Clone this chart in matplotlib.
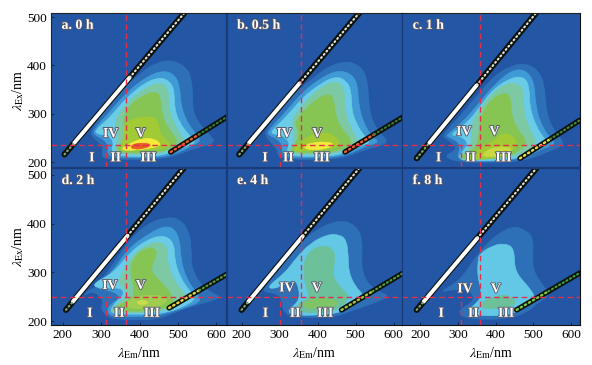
import matplotlib
matplotlib.use('Agg')
import numpy as np
import matplotlib.pyplot as plt
import matplotlib.patheffects as pe
from matplotlib.path import Path
from matplotlib.patches import PathPatch

plt.rcParams['font.family'] = ['Liberation Serif', 'DejaVu Serif']
plt.rcParams['mathtext.fontset'] = 'stix'

W, H = 592, 365

# contour outlines, (em, ex) in nm, outermost level first
a_levels = [
    [(282,266),(312,304),(356,346),(408,384),(442,402),(481,408),(516,394),(529,373),(533,339),(533,304),(551,277),(577,256),(590,241),(529,228),(486,214),(442,208),(338,208),(312,211),(308,221),(312,234),(295,246),(282,256)],
    [(286,266),(325,301),(369,342),(416,373),(460,387),(490,377),(501,352),(503,318),(516,287),(533,266),(555,246),(529,234),(486,218),(442,211),(343,211),(321,218),(325,235),(312,249),(291,256)],
    [(291,266),(330,294),(369,332),(416,363),(455,373),(477,363),(487,346),(487,311),(499,283),(520,259),(542,243),(520,235),(477,221),(442,214),(347,214),(330,225),(338,241),(325,256),(295,259)],
    [(338,283),(369,321),(416,352),(455,363),(473,349),(473,311),(486,280),(507,252),(516,241),(477,225),(438,218),(351,218),(338,225),(347,241),(347,263)],
    [(360,290),(377,318),(416,339),(442,344),(453,332),(455,301),(468,273),(499,242),(473,228),(434,221),(360,221),(343,228),(360,242),(364,266)],
    [(364,280),(386,290),(434,294),(447,283),(451,256),(481,237),(451,227),(373,225),(347,226),(360,239),(360,263)],
    [(351,225),(377,239),(408,249),(438,248),(455,236),(434,230),(390,225)],
    [(377,232),(390,239),(421,239),(429,234),(408,228),(386,227)],
]
b_levels = [
    [(271,266),(301,301),(345,342),(398,377),(433,397),(481,406),(516,390),(527,359),(529,318),(538,283),(560,259),(582,241),(520,228),(477,214),(433,208),(328,208),(301,214),(301,228),(284,242),(271,256)],
    [(275,264),(314,297),(358,339),(406,370),(450,387),(485,380),(501,359),(503,318),(516,280),(538,252),(556,243),(520,234),(477,218),(433,211),(332,211),(310,218),(314,235),(301,249),(279,256)],
    [(284,264),(323,294),(363,332),(406,359),(446,375),(472,366),(485,346),(485,308),(499,277),(520,252),(534,243),(507,234),(468,221),(433,214),(336,214),(323,225),(332,241),(314,256),(288,259)],
    [(336,290),(367,321),(406,352),(446,366),(468,352),(468,308),(481,273),(507,241),(468,225),(428,218),(341,218),(328,225),(341,241),(341,266)],
    [(341,280),(376,315),(411,335),(431,339),(441,328),(446,290),(463,266),(490,242),(463,228),(424,221),(349,221),(332,228),(349,242),(354,266)],
    [(358,241),(384,256),(415,261),(441,256),(459,237),(433,227),(354,223),(336,225)],
    [(363,232),(385,240),(424,242),(443,237),(424,228),(380,225)],
]
c_levels = [
    [(266,256),(306,290),(350,332),(394,373),(434,394),(474,402),(509,387),(524,359),(527,318),(536,283),(558,256),(576,239),(540,225),(470,204),(381,202),(302,203),(271,214),(297,225),(302,234),(275,250)],
    [(275,256),(315,280),(359,321),(399,359),(443,388),(478,387),(498,363),(501,321),(512,283),(536,252),(554,239),(514,228),(461,206),(328,203),(303,211),(310,225),(309,242),(284,252)],
    [(284,256),(328,280),(359,311),(394,349),(443,373),(474,373),(486,352),(486,315),(501,277),(523,249),(536,239),(501,228),(452,207),(328,204),(306,211),(319,225),(333,241),(310,256)],
    [(341,283),(364,311),(394,342),(434,362),(461,359),(471,342),(471,308),(483,273),(505,243),(492,232),(447,211),(319,206),(310,214),(333,225),(341,249)],
    [(359,273),(368,304),(394,332),(425,342),(439,332),(439,297),(456,266),(483,241),(452,221),(425,211),(328,206),(310,213),(341,225),(356,239)],
    [(359,228),(390,241),(417,259),(439,256),(456,241),(443,225),(417,211),(350,207),(328,207)],
    [(368,218),(392,230),(430,232),(443,225),(421,213),(372,211)],
]
d_levels = [
    [(291,268),(330,309),(369,357),(416,395),(468,410),(503,405),(525,377),(529,340),(529,309),(551,275),(581,258),(607,249),(529,232),(477,216),(442,205),(347,205),(317,213),(304,230),(313,242),(291,261),(269,258),(261,252),(278,266)],
    [(295,268),(338,305),(373,347),(425,377),(460,391),(486,388),(501,364),(503,326),(516,288),(542,258),(555,242),(516,230),(477,220),(442,213),(351,210),(321,216),(325,234),(356,249),(338,261),(308,266)],
    [(285,277),(338,299),(377,340),(425,367),(464,373),(486,357),(487,326),(499,292),(525,261),(542,247),(507,230),(473,221),(434,216),(351,216),(325,220),(343,242),(360,251),(360,268),(325,268),(295,268)],
    [(347,281),(382,333),(425,357),(455,360),(470,347),(470,319),(481,292),(507,261),(520,249),(494,233),(460,223),(408,218),(347,220),(325,221),(351,240),(369,251),(364,268)],
    [(377,305),(390,333),(416,347),(438,348),(444,336),(429,309),(434,295),(468,268),(481,252),(486,237),(460,227),(403,221),(356,223),(338,227),(364,240),(389,251),(384,281)],
    [(369,240),(395,251),(442,254),(473,247),(460,233),(416,225),(369,227)],
]
d_spot = [(390,238),(408,244),(425,238),(408,232)]
e_levels = [
    [(262,263),(301,299),(349,350),(402,388),(463,405),(499,391),(513,367),(512,333),(512,302),(529,275),(556,261),(582,252),(538,237),(485,223),(442,210),(336,210),(314,223),(314,242),(301,257),(279,259)],
    [(270,268),(319,299),(341,323),(380,357),(424,375),(455,375),(472,364),(477,333),(477,302),(494,271),(520,251),(485,230),(442,216),(341,213),(323,223),(354,242),(354,268),(341,288),(301,268)],
    [(367,288),(367,326),(389,347),(420,353),(443,343),(443,319),(437,292),(459,268),(481,251),(463,233),(437,221),(389,218),(341,223),(358,240),(380,247),(373,268)],
    [(364,236),(380,245),(428,247),(455,238),(437,229),(393,225),(367,228)],
]
f_levels = [
    [(253,258),(310,282),(346,326),(390,367),(443,393),(483,381),(496,364),(494,333),(496,302),(518,275),(540,254),(501,236),(487,223),(434,206),(328,206),(306,220),(319,230),(346,242),(341,261),(310,268)],
    [(359,336),(394,353),(425,357),(448,347),(448,302),(483,271),(501,251),(487,237),(461,223),(425,213),(346,213),(328,223),(362,244),(365,264),(355,292),(356,319)],
    [(365,238),(381,245),(425,255),(452,242),(448,233),(417,227),(368,225)],
]

panel_names = ['a. 0 h', 'b. 0.5 h', 'c. 1 h', 'd. 2 h', 'e. 4 h', 'f. 8 h']
romans = ['I', 'II', 'III', 'IV', 'V']
roman_em = [
    [276, 338, 423, 325, 403],
    [262, 323, 411, 312, 399],
    [249, 334, 421, 316, 397],
    [271, 347, 432, 323, 403],
    [263, 341, 420, 319, 398],
    [256, 341, 428, 319, 401],
]
roman_ex = [
    [209, 209, 209, 259, 259],
    [209, 209, 209, 259, 259],
    [209, 209, 209, 263, 263],
    [216, 216, 216, 273, 273],
    [216, 216, 216, 268, 268],
    [216, 216, 216, 266, 266],
]
v_line = [366, 356, 359, 365, 357, 359]
short_line = [312, 301, 309, 313, 301, 309]
h_line = [234.5, 234.5, 234.5, 248.5, 248.5, 248.5]

# first and second order scatter bands: em0, ex0, em1, ex1
first_order = [
    (205, 216, 516, 508),
    (194, 216, 511, 510),
    (191, 208, 509, 510),
    (209, 223, 515, 514),
    (200, 223, 510, 514),
    (191, 223, 509, 514),
]
white_end = [375, 363, 359, 375, 374, 370]
second_order = [
    (481, 221, 628, 294),
    (472, 221, 626, 294),
    (465, 208, 624, 287),
    (477, 227, 633, 299),
    (463, 223, 626, 299),
    (456, 223, 624, 299),
]
second_beads = [
    ('#f06030', '#3c7a3a'),
    ('#f06030', '#3c7a3a'),
    ('#f0e040', '#4a8a40'),
    ('#e8d840', '#58a040'),
    ('#a0c840', '#58a040'),
    ('#80c840', '#40a040'),
]

x_ticks = [200, 300, 400, 500, 600]
y_ticks = [200, 300, 400, 500]
x_lims = [(170, 626), (160.5, 622), (152, 624)]
y_lims = [(190, 508.5), (192, 514)]
col_px = [(51, 226.5), (226.5, 402), (402, 580)]
row_px = [(13, 167), (168, 325)]

bg = '#2356a5'
level_colors = ['#2e70b8', '#3f9ad6', '#6acce6', '#7cc9a4', '#86c554', '#a2ca34', '#f5ea3a', '#e85a28']
layer_colors = [
    level_colors,
    level_colors[:6] + ['#f5ea3a'],
    level_colors[:6] + ['#c8d840'],
    level_colors[:5] + ['#a0cc50'],
    ['#2e70b8', '#62c8e6', '#6cc09a', '#80c468'],
    ['#2e70b8', '#62c8e6', '#6cc09a'],
]
layers = [a_levels, b_levels, c_levels, d_levels, e_levels, f_levels]
red = '#e0304c'


def outline_patch(poly, color):
    # quadratic curve through the edge midpoints, the read points are the control points
    pts = np.array(poly, dtype=float)
    # the curve cuts the corners, so open the outline up a little
    centre = pts.mean(axis=0)
    pts = centre + (pts - centre) * [1.05, 1.03]
    mids = (pts + np.roll(pts, -1, axis=0)) / 2
    verts = [mids[-1]]
    codes = [Path.MOVETO]
    for p, m in zip(pts, mids):
        verts += [p, m]
        codes += [Path.CURVE3, Path.CURVE3]
    return PathPatch(Path(verts, codes), facecolor=color, edgecolor=color, lw=0.5)


fig = plt.figure(figsize=(W/100, H/100), dpi=100)
stroke = [pe.withStroke(linewidth=1.3, foreground='#5a5a6a')]

for i in range(6):
    row, col = i // 3, i % 3
    x0, x1 = col_px[col]
    y0, y1 = row_px[row]
    ax = fig.add_axes([x0/W, 1 - y1/H, (x1-x0)/W, (y1-y0)/H])
    ax.set_facecolor(bg)
    ax.set_xlim(*x_lims[col])
    ax.set_ylim(*y_lims[row])

    for poly, color in zip(layers[i], layer_colors[i]):
        ax.add_patch(outline_patch(poly, color))
    if i == 3:
        ax.add_patch(outline_patch(d_spot, '#c8dc50'))

    # scatter bands
    em0, ex0, em1, ex1 = first_order[i]
    ax.plot([em0, em1], [ex0, ex1], color='#0c120c', lw=4.4, solid_capstyle='round')
    white_em = np.interp([240, white_end[i]], [ex0, ex1], [em0, em1])
    ax.plot(white_em, [240, white_end[i]], color='white', lw=2.8, solid_capstyle='round')
    ax.plot([white_em[1], em1], [white_end[i], ex1], color='#e4e4dc', lw=1.5,
            ls=(0, (0.5, 1.5)), dash_capstyle='round')
    ax.plot([em0, white_em[0]], [ex0, 240], color='#80a880', lw=1.5,
            ls=(0, (0.5, 1.5)), dash_capstyle='round')

    em0, ex0, em1, ex1 = second_order[i]
    emm, exm = (em0+em1)/2, (ex0+ex1)/2
    ax.plot([em0, em1], [ex0, ex1], color='#0c120c', lw=3.9, solid_capstyle='round')
    ax.plot([em0, emm], [ex0, exm], color=second_beads[i][0], lw=1.7,
            ls=(0, (0.6, 1.4)), dash_capstyle='round')
    ax.plot([emm, em1], [exm, ex1], color=second_beads[i][1], lw=1.5,
            ls=(0, (0.6, 1.4)), dash_capstyle='round')

    # guide lines
    dash = (0, (4, 2.6))
    ax.axvline(v_line[i], color=red, lw=1.0, ls=dash)
    ax.axhline(h_line[i], color=red, lw=1.0, ls=dash)
    ax.plot([short_line[i], short_line[i]], [y_lims[row][0], h_line[i]], color=red, lw=1.0, ls=dash)

    for t, em, ex in zip(romans, roman_em[i], roman_ex[i]):
        ax.text(em, ex, t, color='white', fontsize=10, fontweight='bold', ha='center', va='center',
                path_effects=stroke)
    ax.text(0.06, 0.92, panel_names[i], transform=ax.transAxes, color='white', fontsize=10,
            fontweight='bold', ha='left', va='center', path_effects=stroke)

    ax.set_xticks(x_ticks)
    ax.set_yticks(y_ticks)
    ax.tick_params(direction='in', length=2.5, width=0.6, labelsize=9.5, pad=3, color='#102040',
                   left=col == 0, bottom=row == 1, labelleft=col == 0, labelbottom=row == 1)
    if col == 0:
        ax.set_ylabel(r'$\lambda_{\mathrm{Ex}}$/nm', fontsize=10, labelpad=1)
    if row == 1:
        ax.set_xlabel(r'$\lambda_{\mathrm{Em}}$/nm', fontsize=10, labelpad=3)

    for side, sp in ax.spines.items():
        sp.set_linewidth(0.8)
        sp.set_color('#1a3a78')
    if col == 0:
        ax.spines['left'].set_color('#222222')
    if col == 2:
        ax.spines['right'].set_color('#111111')
    if row == 0:
        ax.spines['top'].set_color('#222222')
    if row == 1:
        ax.spines['bottom'].set_color('#111111')

fig.savefig('out.png', dpi=100)
